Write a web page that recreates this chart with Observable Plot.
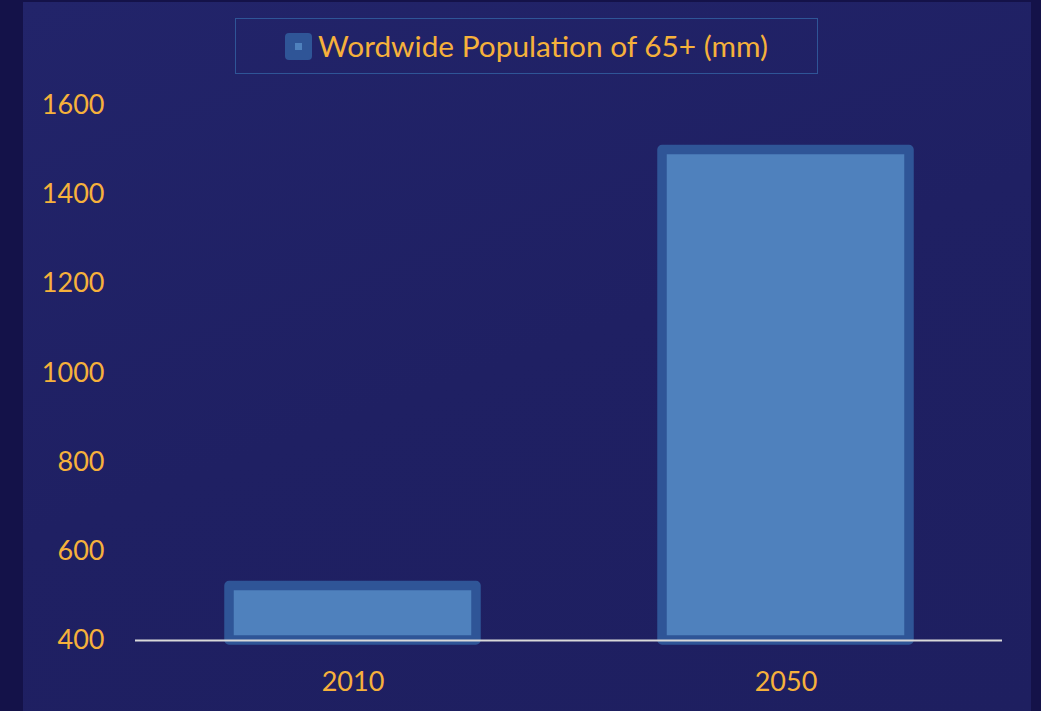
<!DOCTYPE html>
<html>
<head>
<meta charset="utf-8">
<script src="https://cdn.jsdelivr.net/npm/d3@7"></script>
<script src="https://cdn.jsdelivr.net/npm/@observablehq/plot@0.6"></script>
<style>
  html, body { margin: 0; padding: 0; }
  body { width: 1041px; height: 711px; background: #141249; overflow: hidden; position: relative; font-family: Lato, "Open Sans", sans-serif; }
  #panel { position: absolute; left: 23px; top: 2px; width: 1008px; height: 709px;
    background: linear-gradient(160deg, #22246a 0%, #1f2063 50%, #1e1f60 100%); }
  #chart { position: absolute; left: 0; top: 0; }
  #legend { position: absolute; left: 235px; top: 18px; width: 581px; height: 54px;
    border: 1.5px solid #2f5597; display: flex; align-items: center; justify-content: center; gap: 6px; }
  #legend .sw { width: 27px; height: 27px; border-radius: 4px; background: #2f5597; position: relative; flex: none; }
  #legend .sw::after { content: ""; position: absolute; left: 10px; top: 10px; width: 7px; height: 7px; background: #4f81bd; }
  #legend .lbl { color: #f6b13b; font-size: 29.8px; font-family: Lato, sans-serif; line-height: 1; }
</style>
</head>
<body>
<div id="panel"></div>
<div id="chart"></div>
<div id="legend"><span class="sw"></span><span class="lbl"></span></div>
<script>
const years = ["2010", "2050"];
const values = [522, 1500];
const yTicks = [400, 600, 800, 1000, 1200, 1400, 1600];
const seriesLabel = "Wordwide Population of 65+ (mm)";

const data = years.map((y, i) => ({year: y, value: values[i]}));
document.querySelector("#legend .lbl").textContent = seriesLabel;

const orange = "#f6b13b";
const chart = Plot.plot({
  width: 1041,
  height: 711,
  marginTop: 105,
  marginBottom: 71,
  marginLeft: 135,
  marginRight: 39,
  style: {background: "transparent", color: orange, fontFamily: "Lato, sans-serif", fontSize: "27px"},
  x: {domain: years, paddingInner: 0.43, paddingOuter: 0.215, label: null},
  y: {domain: [400, 1600], label: null},
  marks: [
    Plot.barY(data, {x: "year", y1: 400, y2: "value", fill: "#4f81bd", stroke: "#2f5597", strokeWidth: 9.5, strokeLinejoin: "round"}),
    Plot.ruleY([400], {stroke: "#d9d9d9", strokeWidth: 2}),
    Plot.axisY({ticks: yTicks, tickFormat: d => String(d), tickSize: 0, tickPadding: 31, fill: orange, fontSize: 27, label: null}),
    Plot.axisX({tickSize: 0, tickPadding: 31, fill: orange, fontSize: 27, label: null})
  ]
});
document.getElementById("chart").appendChild(chart);
</script>
</body>
</html>
